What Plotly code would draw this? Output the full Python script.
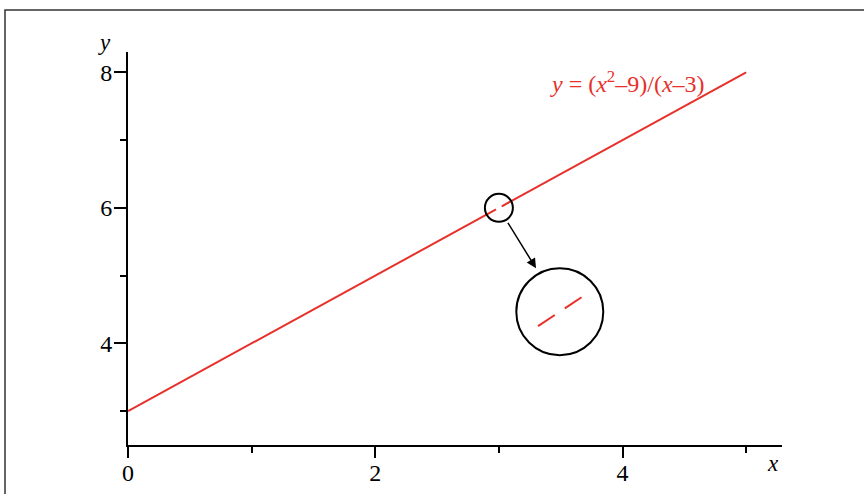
import plotly.graph_objects as go

# Main curve y = (x^2-9)/(x-3), with the hole at x = 3
x_curve = [0, 2.977, None, 3.023, 5]
y_curve = [3, 5.977, None, 6.023, 8]

# Magnified view near the hole (3, 6)
x_zoom = [2.9, 2.977, None, 3.023, 3.1]
y_zoom = [5.9, 5.977, None, 6.023, 6.1]
hole = (3, 6)

x_ticks = [0, 2, 4]
y_ticks = [4, 6, 8]

RED = "#e8302a"
SERIF = "Liberation Serif"

fig = go.Figure()
fig.add_trace(go.Scatter(x=x_curve, y=y_curve, mode="lines",
                         line=dict(color=RED, width=2), xaxis="x", yaxis="y",
                         hoverinfo="skip"))
fig.add_trace(go.Scatter(x=x_zoom, y=y_zoom, mode="lines",
                         line=dict(color=RED, width=2), xaxis="x2", yaxis="y2",
                         hoverinfo="skip"))

L, R, T, B = 128, 82, 52, 49
W, H = 864, 494
pw, ph = W - L - R, H - T - B

def px_x(p):
    return (p - L) / pw

def px_y(p):
    return (H - B - p) / ph

axis_common = dict(showline=True, linecolor="black", linewidth=2,
                   ticks="outside", tickwidth=2, tickcolor="black",
                   showgrid=False, zeroline=False, automargin=False,
                   tickfont=dict(family=SERIF, size=24, color="black"))

cx, cy = 559.8, 311.7
fig.update_layout(
    width=W, height=H,
    margin=dict(l=L, r=R, t=T, b=B, autoexpand=False),
    paper_bgcolor="white", plot_bgcolor="white",
    showlegend=False, hovermode=False,
    xaxis=dict(range=[0, 5.29], tickvals=x_ticks, ticklen=11, ticklabelstandoff=-6,
               minor=dict(dtick=1, tick0=0, ticklen=6, tickwidth=2,
                          tickcolor="black", ticks="outside"),
               **axis_common),
    yaxis=dict(range=[2.5, 8.3], tickvals=y_ticks, ticklen=12, ticklabelstandoff=-3,
               minor=dict(dtick=1, tick0=0, ticklen=6, tickwidth=2,
                          tickcolor="black", ticks="outside"),
               **axis_common),
    xaxis2=dict(domain=[px_x(cx - 50), px_x(cx + 50)], range=[2.77, 3.23],
                visible=False, anchor="y2"),
    yaxis2=dict(domain=[px_y(cy + 50), px_y(cy - 50)], range=[5.654, 6.346],
                visible=False, anchor="x2"),
)

shapes = [
    # small circle around the hole
    dict(type="circle", xref="x", yref="y", xsizemode="pixel", ysizemode="pixel",
         xanchor=hole[0], yanchor=hole[1], x0=-14, x1=14, y0=-14, y1=14,
         line=dict(color="black", width=2)),
    # magnified circle
    dict(type="circle", xref="x2", yref="y2", xsizemode="pixel", ysizemode="pixel",
         xanchor=hole[0], yanchor=hole[1], x0=-43.5, x1=43.5, y0=-43.5, y1=43.5,
         line=dict(color="black", width=2)),
    # outer frame
    dict(type="rect", xref="paper", yref="paper",
         x0=px_x(5), x1=px_x(880), y0=px_y(510), y1=px_y(10),
         line=dict(color="#333333", width=1.5), layer="below"),
]
fig.update_layout(shapes=shapes)

fig.add_annotation(x=px_x(536), y=px_y(268.3), xref="paper", yref="paper",
                   ax=-29, ay=-47, showarrow=True, arrowhead=2, arrowsize=1.3,
                   arrowwidth=1.5, arrowcolor="black", text="")
fig.add_annotation(x=px_x(627), y=px_y(82), xref="paper", yref="paper",
                   text="<i>y</i> = (<i>x</i><sup>2</sup>–9)/(<i>x</i>–3)",
                   showarrow=False, xanchor="center", yanchor="middle",
                   font=dict(family=SERIF, size=24, color=RED))
fig.add_annotation(x=px_x(104), y=px_y(42), xref="paper", yref="paper",
                   text="<i>y</i>", showarrow=False, xanchor="center", yanchor="middle",
                   font=dict(family=SERIF, size=23, color="black"))
fig.add_annotation(x=px_x(773), y=px_y(463), xref="paper", yref="paper",
                   text="<i>x</i>", showarrow=False, xanchor="center", yanchor="middle",
                   font=dict(family=SERIF, size=23, color="black"))

fig.write_html("out.html",
               config={"displayModeBar": False},
               post_script="document.body.style.margin='0';"
                           "document.body.style.overflow='hidden';")
